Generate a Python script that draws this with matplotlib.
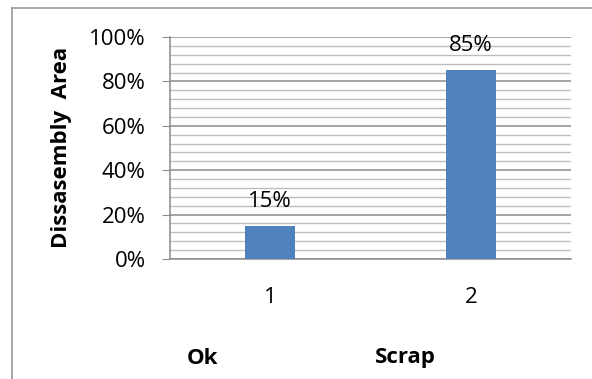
import numpy as np
import matplotlib
matplotlib.use('Agg')
import matplotlib.pyplot as plt
from matplotlib.ticker import MultipleLocator, PercentFormatter
from matplotlib.lines import Line2D

plt.rcParams['font.family'] = ['Open Sans', 'DejaVu Sans']

categories = ['1', '2']
values = [15, 85]
group_labels = ['Ok', 'Scrap']
y_label = 'Dissasembly  Area'

fig = plt.figure(figsize=(5.92, 3.79), dpi=100)
ax = fig.add_axes([170/592, 1-259/379, 401/592, 222/379])

x = np.arange(1, len(values)+1)
bars = ax.bar(x, values, width=0.25, color='#4F81BD', zorder=3)
for b, v in zip(bars, values):
    ax.text(b.get_x()+b.get_width()/2, v+8.5, f'{v}%', ha='center', va='baseline', fontsize=16)

ax.set_xlim(0.5, 2.5)
ax.set_ylim(0, 100)
ax.yaxis.set_major_locator(MultipleLocator(20))
ax.yaxis.set_minor_locator(MultipleLocator(4))
ax.yaxis.set_major_formatter(PercentFormatter(decimals=0))
ax.set_xticks(x)
ax.set_xticklabels(categories)
ax.grid(axis='y', which='major', color='#8c8c8c', linewidth=1.1, zorder=0)
ax.grid(axis='y', which='minor', color='#bdbdbd', linewidth=1.0, zorder=0)
for s in ['top', 'right']:
    ax.spines[s].set_visible(False)
ax.spines['left'].set_color('#8c8c8c')
ax.spines['bottom'].set_color('#8c8c8c')
ax.spines['left'].set_linewidth(1.1)
ax.spines['bottom'].set_linewidth(1.1)
ax.tick_params(axis='y', which='major', length=5.5, color='#8c8c8c', labelsize=16, pad=12)
ax.tick_params(axis='y', which='minor', length=0)
ax.tick_params(axis='x', length=0, labelsize=16, pad=20)

# axis title
fig.text(62/592, 1-147/379, y_label, rotation=90, ha='center', va='center',
         fontsize=16, fontweight='bold')

# group labels under the axis
for xi, lab in zip([203, 405], group_labels):
    fig.text(xi/592, 1-358/379, lab, ha='center', va='center', fontsize=16, fontweight='bold')

# chart area border (left and top)
fig.add_artist(Line2D([11.5/592, 11.5/592], [0, 1-8/379], color='#9a9a9a', linewidth=1.2, transform=fig.transFigure))
fig.add_artist(Line2D([11.5/592, 1], [1-8/379, 1-8/379], color='#9a9a9a', linewidth=1.2, transform=fig.transFigure))

fig.savefig('out.png', dpi=100)
